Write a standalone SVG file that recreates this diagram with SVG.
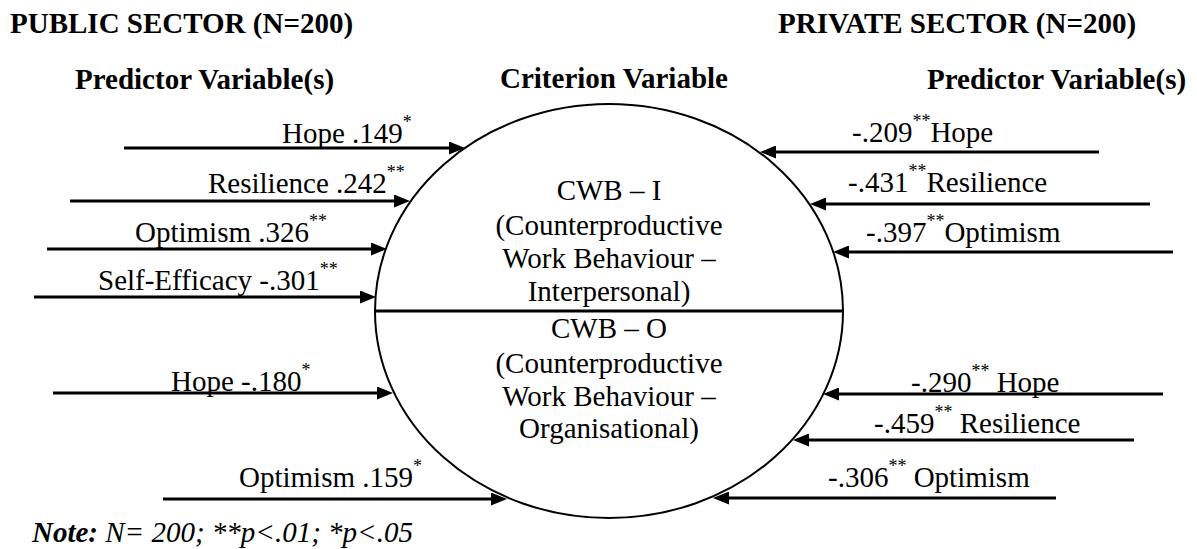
<svg xmlns="http://www.w3.org/2000/svg" width="1197" height="549" viewBox="0 0 1197 549">
  <style>
    text { font-family: "Liberation Serif", "Times New Roman", serif; font-size: 29px; fill: #000; }
    .hd { font-weight: bold; }
    .sup { font-size: 18px; }
    .mid { text-anchor: middle; }
    .arrow { stroke: #000; stroke-width: 3; fill: none; marker-end: url(#head); }
  </style>
  <defs>
    <marker id="head" markerUnits="userSpaceOnUse" markerWidth="16" markerHeight="13" refX="10" refY="6.5" orient="auto">
      <path d="M0,0 L16,6.5 L0,13 Z" fill="#000"/>
    </marker>
  </defs>
  <rect width="1197" height="549" fill="#fff"/>

  <!-- headings -->
  <g id="headings">
    <text class="hd" x="10" y="33">PUBLIC SECTOR (N=200)</text>
    <text class="hd" x="778" y="33">PRIVATE SECTOR (N=200)</text>
    <text class="hd" x="75" y="89">Predictor Variable(s)</text>
    <text class="hd" x="500" y="88">Criterion Variable</text>
    <text class="hd" x="927" y="89">Predictor Variable(s)</text>
  </g>

  <!-- criterion ellipse split into two outcomes -->
  <g id="criterion">
    <ellipse cx="609" cy="311" rx="234" ry="207" fill="#fff" stroke="#000" stroke-width="2"/>
    <line x1="376" y1="311" x2="842" y2="311" stroke="#000" stroke-width="3"/>
    <g id="cwb-i">
      <text class="mid" x="609" y="200">CWB – I</text>
      <text class="mid" x="609" y="235">(Counterproductive</text>
      <text class="mid" x="609" y="268">Work Behaviour –</text>
      <text class="mid" x="609" y="301">Interpersonal)</text>
    </g>
    <g id="cwb-o">
      <text class="mid" x="609" y="338">CWB – O</text>
      <text class="mid" x="609" y="373">(Counterproductive</text>
      <text class="mid" x="609" y="406">Work Behaviour –</text>
      <text class="mid" x="609" y="438">Organisational)</text>
    </g>
  </g>

  <!-- connectors -->
  <g id="connectors">
    <line class="arrow" x1="124" y1="148" x2="459" y2="148"/>
    <line class="arrow" x1="70" y1="201" x2="404" y2="201"/>
    <line class="arrow" x1="47" y1="249" x2="381" y2="249"/>
    <line class="arrow" x1="34" y1="297" x2="370" y2="297"/>
    <line class="arrow" x1="53" y1="393" x2="387" y2="393"/>
    <line class="arrow" x1="163" y1="499" x2="501" y2="499"/>
    <line class="arrow" x1="1099" y1="152" x2="766" y2="152"/>
    <line class="arrow" x1="1150" y1="204" x2="816" y2="204"/>
    <line class="arrow" x1="1173" y1="252" x2="839" y2="252"/>
    <line class="arrow" x1="1163" y1="394" x2="829" y2="394"/>
    <line class="arrow" x1="1134" y1="440" x2="799" y2="440"/>
    <line class="arrow" x1="1056" y1="498" x2="719" y2="498"/>
  </g>

  <!-- public sector predictors -->
  <g id="public-predictors">
    <text x="282" y="143">Hope .149<tspan class="sup" dy="-15">*</tspan></text>
    <text x="208" y="193">Resilience .242<tspan class="sup" dy="-15">**</tspan></text>
    <text x="135" y="242">Optimism .326<tspan class="sup" dy="-15">**</tspan></text>
    <text x="98" y="290">Self-Efficacy -.301<tspan class="sup" dy="-15">**</tspan></text>
    <text x="171" y="391">Hope -.180<tspan class="sup" dy="-15">*</tspan></text>
    <text x="239" y="487">Optimism .159<tspan class="sup" dy="-15">*</tspan></text>
  </g>

  <!-- private sector predictors -->
  <g id="private-predictors">
    <text x="852" y="142">-.209<tspan class="sup" dy="-15">**</tspan><tspan dy="15">Hope</tspan></text>
    <text x="848" y="192">-.431<tspan class="sup" dy="-15">**</tspan><tspan dy="15">Resilience</tspan></text>
    <text x="866" y="242">-.397<tspan class="sup" dy="-15">**</tspan><tspan dy="15">Optimism</tspan></text>
    <text x="911" y="392">-.290<tspan class="sup" dy="-15">**</tspan><tspan dy="15"> Hope</tspan></text>
    <text x="874" y="433">-.459<tspan class="sup" dy="-15">**</tspan><tspan dy="15"> Resilience</tspan></text>
    <text x="828" y="487">-.306<tspan class="sup" dy="-15">**</tspan><tspan dy="15"> Optimism</tspan></text>
  </g>

  <!-- significance note -->
  <g id="note">
    <text x="32" y="542" font-style="italic"><tspan font-weight="bold">Note:</tspan> N= 200; **p&lt;.01; *p&lt;.05</text>
  </g>
</svg>
